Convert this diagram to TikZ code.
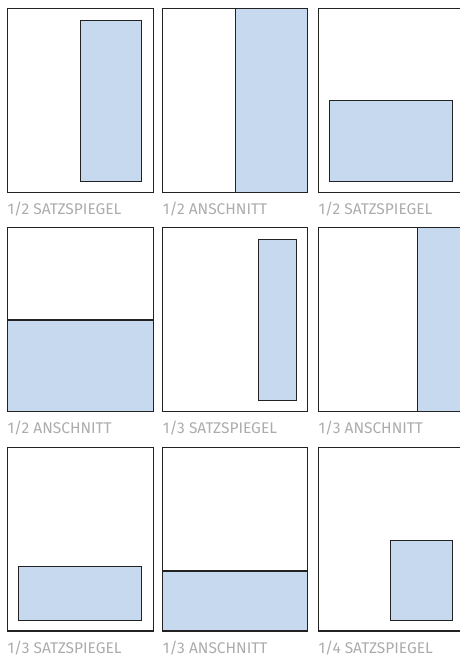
\documentclass[tikz,border=0pt]{standalone}
\usepackage{fontspec}
\setmainfont{Fira Sans}
\definecolor{blu}{RGB}{199,217,239}
\definecolor{lab}{RGB}{172,172,172}
\definecolor{edge}{RGB}{34,34,34}
\begin{document}
\begin{tikzpicture}[x=1pt,y=-1pt,
  page/.style={draw=edge,line width=1.3pt},
  ad/.style={draw=edge,fill=blu,line width=1pt},
  bleed/.style={draw=edge,fill=blu,line width=1.1pt},
  lbl/.style={anchor=base west,inner sep=0pt,text=lab,font=\fontsize{15.5}{15.5}\selectfont}]
\useasboundingbox (0,0) rectangle (460,656);
\clip (0,0) rectangle (460,656);
% row 1
\draw[page] (7.3,8.3) rectangle (153.3,192.3);
\draw[ad] (80,20) rectangle (141.7,181.7);
\node[lbl] (l1) at (7.3,214.5) {1/2 SATZSPIEGEL};
\draw[bleed] (235.7,8.3) rectangle (307.7,192.3);
\draw[page] (162.7,8.3) rectangle (307.7,192.3);
\node[lbl] (l2) at (162.7,214.5) {1/2 ANSCHNITT};
\draw[page] (318.3,8.3) rectangle (464.3,192.3);
\draw[ad] (329,100) rectangle (452.3,181.7);
\node[lbl] (l3) at (318.3,214.5) {1/2 SATZSPIEGEL};
% row 2
\draw[bleed] (7.3,320) rectangle (153.3,411.7);
\draw[page] (7.3,227.7) rectangle (153.3,411.7);
\node[lbl] (l4) at (7.3,433.8) {1/2 ANSCHNITT};
\draw[page] (162.7,227.7) rectangle (307.7,411.7);
\draw[ad] (258.3,239.3) rectangle (296.7,400.3);
\node[lbl] (l5) at (162.7,433.8) {1/3 SATZSPIEGEL};
\draw[bleed] (417.3,227.7) rectangle (464.3,411.7);
\draw[page] (318.3,227.7) rectangle (464.3,411.7);
\node[lbl] (l6) at (318.3,433.8) {1/3 ANSCHNITT};
% row 3
\draw[page] (7.3,447.3) rectangle (153.3,631);
\draw[ad] (18.3,566.7) rectangle (141.7,620);
\node[lbl] (l7) at (7.3,653) {1/3 SATZSPIEGEL};
\draw[bleed] (162.7,571) rectangle (307.7,631);
\draw[page] (162.7,447.3) rectangle (307.7,631);
\node[lbl] (l8) at (162.7,653) {1/3 ANSCHNITT};
\draw[page] (318.3,447.3) rectangle (464.3,631);
\draw[ad] (390.7,540) rectangle (452.7,620);
\node[lbl] (l9) at (318.3,653) {1/4 SATZSPIEGEL};
\end{tikzpicture}
\end{document}
